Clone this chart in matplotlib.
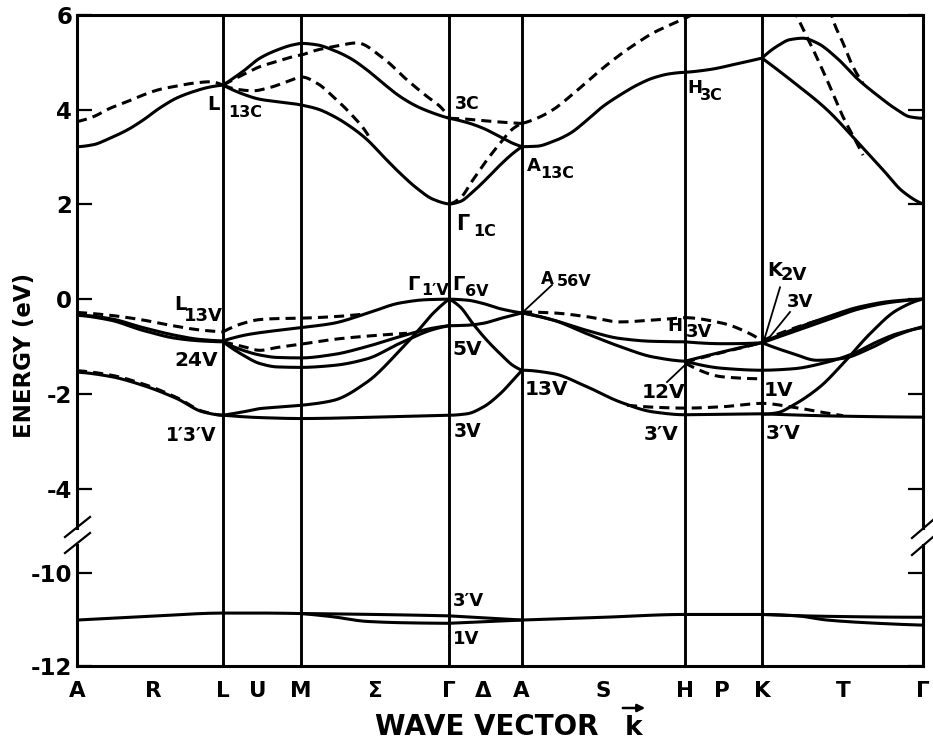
import numpy as np
import matplotlib
matplotlib.use("Agg")
import matplotlib.pyplot as plt
from matplotlib.lines import Line2D
from matplotlib.patches import FancyArrowPatch

plt.rcParams["font.family"] = ["DejaVu Sans"]
plt.rcParams["font.weight"] = "bold"

# ---------------------------------------------------------------- k path
SYM_K = [0, 146, 224, 372, 445, 608, 685, 846]          # A L M Γ A H K Γ
LINE_K = [146, 224, 372, 445, 608, 685]                  # vertical guide lines
TICK_LABELS = ["A", "R", "L", "U", "M", "Σ", "Γ", "Δ", "A", "S", "H", "P", "K", "T", "Γ"]
TICK_K = [0, 76, 146, 181, 224, 298, 372, 406, 444, 526, 608, 645, 685, 766, 846]

E_TICKS_UPPER = [6, 4, 2, 0, -2, -4]
E_TICKS_LOWER = [-10, -12]

# ---------------------------------------------------------------- conduction bands
cond_solid = [
    ([0, 16, 33, 50, 66, 83, 100, 116, 133, 146],
     [3.22, 3.26, 3.40, 3.57, 3.78, 4.04, 4.25, 4.38, 4.48, 4.52]),
    ([146, 166, 183, 200, 216, 225, 240, 256, 273, 290, 306, 323, 340, 356, 372],
     [4.52, 4.81, 5.09, 5.26, 5.37, 5.40, 5.37, 5.26, 5.09, 4.84, 4.56, 4.28, 4.07, 3.93, 3.82]),
    ([146, 166, 183, 200, 216, 224, 240, 256, 273, 290, 306, 323, 340, 356, 372],
     [4.52, 4.33, 4.22, 4.17, 4.13, 4.10, 4.02, 3.87, 3.65, 3.37, 3.02, 2.66, 2.34, 2.11, 2.01]),
    ([372, 383, 396, 410, 423, 436, 445], [2.01, 2.06, 2.27, 2.55, 2.83, 3.08, 3.22]),
    ([372, 390, 406, 423, 436, 445], [3.82, 3.73, 3.61, 3.43, 3.29, 3.22]),
    ([445, 460, 476, 493, 510, 526, 543, 560, 576, 593, 608],
     [3.22, 3.23, 3.33, 3.50, 3.78, 4.07, 4.31, 4.52, 4.67, 4.76, 4.79]),
    ([608, 633, 660, 685], [4.79, 4.85, 4.97, 5.09]),
    ([685, 700, 713, 726, 740, 760, 780, 800, 820, 833, 846],
     [5.09, 5.34, 5.48, 5.51, 5.41, 5.09, 4.66, 4.31, 4.00, 3.85, 3.82]),
    ([685, 716, 750, 783, 806, 826, 846], [5.09, 4.59, 4.00, 3.26, 2.73, 2.27, 2.01]),
]

cond_dashed = [
    ([0, 16, 33, 50, 66, 83, 100, 116, 133, 146],
     [3.75, 3.85, 4.03, 4.17, 4.31, 4.43, 4.50, 4.56, 4.59, 4.52]),
    ([146, 166, 183, 200, 216, 225, 240, 256, 280, 306, 330, 350, 363, 372],
     [4.52, 4.74, 4.91, 5.02, 5.12, 5.16, 5.26, 5.33, 5.41, 5.09, 4.63, 4.28, 4.07, 3.84]),
    ([146, 160, 176, 193, 210, 225, 240, 256, 273, 290, 293],
     [4.52, 4.43, 4.40, 4.47, 4.59, 4.69, 4.56, 4.28, 3.93, 3.50, 3.38]),
    ([372, 390, 406, 423, 445], [3.82, 3.80, 3.77, 3.74, 3.71]),
    ([372, 383, 396, 410, 423, 436, 445], [2.01, 2.13, 2.52, 2.94, 3.29, 3.60, 3.71]),
    ([445, 460, 476, 493, 510, 526, 543, 560, 576, 593, 608, 622],
     [3.71, 3.82, 4.00, 4.28, 4.59, 4.88, 5.16, 5.41, 5.62, 5.79, 5.93, 6.08]),
    ([716, 720, 733, 750, 766, 780, 786], [6.15, 5.97, 5.41, 4.63, 3.85, 3.29, 3.04]),
    ([753, 756, 766, 776, 786], [6.15, 5.90, 5.41, 4.91, 4.56]),
]

# ---------------------------------------------------------------- valence bands
val_solid = [
    ([0, 33, 66, 100, 123, 146], [-0.34, -0.44, -0.66, -0.83, -0.88, -0.90]),
    ([0, 33, 66, 100, 123, 146], [-0.33, -0.41, -0.60, -0.77, -0.85, -0.88]),
    ([0, 33, 66, 100, 126, 146], [-1.54, -1.63, -1.82, -2.10, -2.38, -2.45]),
    ([146, 170, 200, 224, 256, 290, 323, 350, 372],
     [-0.88, -0.75, -0.66, -0.60, -0.51, -0.30, -0.08, -0.01, 0.0]),
    ([146, 166, 183, 200, 224, 256, 290, 323, 356, 372],
     [-0.90, -1.08, -1.18, -1.23, -1.24, -1.17, -1.00, -0.79, -0.61, -0.56]),
    ([146, 166, 183, 200, 224, 256, 290, 323, 356, 372],
     [-0.90, -1.18, -1.36, -1.43, -1.44, -1.40, -1.26, -0.93, -0.64, -0.56]),
    ([146, 166, 183, 200, 224, 256, 290, 323, 340, 356, 372],
     [-2.45, -2.38, -2.31, -2.28, -2.24, -2.14, -1.75, -1.08, -0.69, -0.30, 0.0]),
    ([146, 183, 224, 300, 372], [-2.45, -2.50, -2.52, -2.49, -2.45]),
    ([372, 390, 406, 423, 436, 445], [-2.45, -2.42, -2.28, -2.00, -1.71, -1.50]),
    ([372, 390, 406, 423, 445], [0.0, -0.02, -0.09, -0.20, -0.29]),
    ([372, 383, 396, 410, 423, 436, 445], [0.0, -0.16, -0.52, -0.87, -1.15, -1.40, -1.50]),
    ([372, 390, 406, 423, 445], [-0.56, -0.55, -0.51, -0.41, -0.29]),
    ([445, 476, 510, 543, 576, 608], [-0.29, -0.44, -0.66, -0.83, -0.89, -0.90]),
    ([445, 476, 510, 543, 576, 608], [-0.29, -0.44, -0.73, -1.00, -1.22, -1.31]),
    ([445, 476, 510, 543, 576, 608], [-1.50, -1.57, -1.85, -2.17, -2.38, -2.44]),
    ([608, 646, 685], [-0.90, -0.94, -0.92]),
    ([608, 646, 685], [-1.31, -1.11, -0.92]),
    ([608, 646, 685], [-1.31, -1.46, -1.50]),
    ([608, 685], [-2.44, -2.42]),
    ([685, 716, 750, 783, 816, 846], [-0.92, -0.69, -0.44, -0.20, -0.06, 0.0]),
    ([685, 716, 750, 783, 816, 846], [-0.92, -0.64, -0.38, -0.16, -0.04, 0.0]),
    ([685, 716, 740, 766, 793, 820, 846], [-0.92, -1.15, -1.29, -1.25, -1.04, -0.76, -0.58]),
    ([685, 716, 750, 776, 800, 820, 846], [-1.50, -1.47, -1.33, -1.15, -0.90, -0.73, -0.60]),
    ([685, 700, 716, 743, 766, 793, 820, 846], [-2.43, -2.40, -2.24, -1.85, -1.36, -0.73, -0.23, 0.0]),
    ([685, 766, 846], [-2.42, -2.47, -2.49]),
]

val_dashed = [
    ([0, 33, 66, 93, 123, 146], [-0.28, -0.34, -0.44, -0.55, -0.65, -0.69]),
    ([0, 33, 66, 100, 126, 146], [-1.51, -1.60, -1.79, -2.08, -2.37, -2.45]),
    ([146, 166, 183, 200, 225, 256, 285], [-0.69, -0.51, -0.43, -0.41, -0.40, -0.37, -0.32]),
    ([146, 166, 183, 200, 224, 256, 290, 330], [-0.90, -1.00, -1.08, -1.02, -0.95, -0.85, -0.78, -0.72]),
    ([445, 476, 510, 543, 576, 608], [-0.27, -0.29, -0.37, -0.48, -0.44, -0.39]),
    ([608, 646, 673, 685], [-0.39, -0.51, -0.73, -0.88]),
    ([608, 646, 673, 685], [-1.33, -1.12, -0.98, -0.91]),
    ([608, 646, 685], [-1.35, -1.64, -1.68]),
    ([550, 576, 608, 646, 685, 716, 743, 766], [-2.24, -2.28, -2.30, -2.27, -2.20, -2.28, -2.38, -2.46]),
    ([685, 716, 743], [-0.88, -0.62, -0.44]),
]

# ---------------------------------------------------------------- deep valence bands
core_solid = [
    ([0, 73, 146, 185, 224], [-11.01, -10.93, -10.86, -10.86, -10.87]),
    ([224, 298, 372], [-10.87, -10.89, -10.92]),
    ([224, 256, 290, 330, 372], [-10.87, -10.94, -11.04, -11.07, -11.08]),
    ([372, 445], [-10.92, -11.01]),
    ([372, 445], [-11.08, -11.01]),
    ([445, 527, 608, 685], [-11.01, -10.95, -10.89, -10.89]),
    ([685, 750, 846], [-10.89, -10.93, -10.95]),
    ([685, 720, 750, 800, 846], [-10.89, -10.92, -11.01, -11.08, -11.12]),
]


def smooth(x, y, n=40):
    """Shape-preserving cubic (PCHIP) through the given nodes, for drawing."""
    x = np.asarray(x, float)
    y = np.asarray(y, float)
    h = np.diff(x)
    d = np.diff(y) / h
    m = np.zeros_like(y)
    if len(x) == 2:
        m[:] = d[0]
    else:
        for i in range(1, len(x) - 1):
            if d[i - 1] * d[i] > 0:
                w1 = 2 * h[i] + h[i - 1]
                w2 = h[i] + 2 * h[i - 1]
                m[i] = (w1 + w2) / (w1 / d[i - 1] + w2 / d[i])

        def end(h0, h1, d0, d1):
            s = ((2 * h0 + h1) * d0 - h0 * d1) / (h0 + h1)
            if np.sign(s) != np.sign(d0):
                s = 0.0
            elif np.sign(d0) != np.sign(d1) and abs(s) > abs(3 * d0):
                s = 3 * d0
            return s

        m[0] = end(h[0], h[1], d[0], d[1])
        m[-1] = end(h[-1], h[-2], d[-1], d[-2])
    xs, ys = [], []
    for i in range(len(x) - 1):
        t = np.linspace(0, 1, n)
        h00 = 2 * t**3 - 3 * t**2 + 1
        h10 = t**3 - 2 * t**2 + t
        h01 = -2 * t**3 + 3 * t**2
        h11 = t**3 - t**2
        xs.append(x[i] + t * h[i])
        ys.append(h00 * y[i] + h10 * h[i] * m[i] + h01 * y[i + 1] + h11 * h[i] * m[i + 1])
    return np.concatenate(xs), np.concatenate(ys)


W, H = 933, 746
fig = plt.figure(figsize=(W / 100, H / 100), dpi=100)


def fx(px):
    return px / W


def fy(py):
    return 1 - py / H


left, right = 77, 923
top_px, brk_px, bot_px = 15, 536, 666
ax = fig.add_axes([fx(left), fy(brk_px), fx(right - left), fy(top_px) - fy(brk_px)])
axb = fig.add_axes([fx(left), fy(bot_px), fx(right - left), fy(brk_px) - fy(bot_px)])

LW = 2.2
DASH = (3.3, 2.0)

for a in (ax, axb):
    a.set_xlim(SYM_K[0], SYM_K[-1])
    for k in LINE_K:
        a.axvline(k, color="black", lw=2.1, zorder=1)
    for s in a.spines.values():
        s.set_linewidth(LW)
    a.tick_params(axis="y", which="both", direction="in", length=11, width=1.6,
                  left=True, right=True, labelsize=16.5, pad=3.5)

ax.set_ylim(-5.0, 6.0)
axb.set_ylim(-12.0, -9.20)
ax.spines["bottom"].set_visible(False)
axb.spines["top"].set_visible(False)
ax.spines["left"].set_bounds(-4.84, 6.0)
ax.spines["right"].set_bounds(-4.84, 6.0)
axb.spines["left"].set_bounds(-12.0, -9.40)
axb.spines["right"].set_bounds(-12.0, -9.40)

ax.set_yticks(E_TICKS_UPPER)
ax.set_yticklabels([str(v) for v in E_TICKS_UPPER])
axb.set_yticks(E_TICKS_LOWER)
axb.set_yticklabels([str(v) for v in E_TICKS_LOWER])

ax.set_xticks([])
axb.set_xticks(TICK_K)
axb.set_xticklabels(TICK_LABELS, fontsize=15.5)
axb.tick_params(axis="x", length=0, pad=11)

for kk, ee in cond_solid + val_solid:
    xs, ys = smooth(kk, ee)
    ax.plot(xs, ys, color="black", lw=LW, solid_capstyle="round", zorder=3)
for kk, ee in cond_dashed + val_dashed:
    xs, ys = smooth(kk, ee)
    ax.plot(xs, ys, color="black", lw=LW, dashes=DASH, zorder=3)
for kk, ee in core_solid:
    xs, ys = smooth(kk, ee)
    axb.plot(xs, ys, color="black", lw=LW, solid_capstyle="round", zorder=3)

# ---------------------------------------------------------------- state labels
MAIN = 14.5
SUB = 11.5


def lab(a, k, e, s, size=MAIN):
    a.text(k, e, s, fontsize=size, fontweight="bold", ha="left", va="center", zorder=5)


lab(ax, 130, 4.12, "L", 14)
lab(ax, 151, 3.95, "13C", SUB)
lab(ax, 378, 4.12, "3C", 12.5)
lab(ax, 379, 1.59, "Γ", 15)
lab(ax, 396, 1.42, "1C", SUB)
lab(ax, 450, 2.81, "A", 13)
lab(ax, 463, 2.66, "13C", SUB)
lab(ax, 610, 4.45, "H", 13)
lab(ax, 623, 4.31, "3C", SUB)
lab(ax, 330, 0.32, "Γ", 14)
lab(ax, 344, 0.19, "1′V", SUB)
lab(ax, 375, 0.30, "Γ", 14)
lab(ax, 388, 0.17, "6V", SUB)
lab(ax, 464, 0.42, "A", 12)
lab(ax, 480, 0.38, "56V", SUB)
ax.plot([475, 446], [0.30, -0.27], color="black", lw=1.3)
lab(ax, 97, -0.11, "L", 14)
lab(ax, 107, -0.36, "13V", 13)
lab(ax, 97, -1.29, "24V")
lab(ax, 89, -2.87, "1′3′V", 13.5)
lab(ax, 375, -1.07, "5V")
lab(ax, 377, -2.80, "3V", 13.5)
lab(ax, 448, -1.90, "13V")
lab(ax, 565, -1.98, "12V")
ax.plot([590, 613], [-1.75, -1.29], color="black", lw=1.3)
lab(ax, 590, -0.57, "H", 13)
lab(ax, 609, -0.69, "3V", 13)
lab(ax, 567, -2.86, "3′V")
lab(ax, 690, 0.61, "K", 14)
lab(ax, 704, 0.51, "2V", 13)
lab(ax, 710, -0.05, "3V", 13)
ax.plot([703, 687], [0.25, -0.87], color="black", lw=1.3)
ax.plot([713, 690], [-0.27, -0.87], color="black", lw=1.3)
lab(ax, 687, -1.92, "1V")
lab(ax, 689, -2.83, "3′V")
lab(axb, 376, -10.61, "3′V", 13)
lab(axb, 376, -11.41, "1V", 13)

# ---------------------------------------------------------------- axis break marks
for x0, x1, ys in ((65, 90, ((537, 517), (553, 533))), (912, 933, ((538, 520), (555, 537)))):
    for y0, y1 in ys:
        fig.add_artist(Line2D([fx(x0), fx(x1)], [fy(y0), fy(y1)], color="black", lw=1.6))

# ---------------------------------------------------------------- axis titles
fig.text(fx(25), fy(355), "ENERGY (eV)", rotation=90, ha="center", va="center",
         fontsize=16.5, fontweight="bold")
fig.text(fx(487), fy(727), "WAVE VECTOR", ha="center", va="center",
         fontsize=20, fontweight="bold")
fig.text(fx(634), fy(728), "k", ha="center", va="center", fontsize=19, fontweight="bold")
fig.add_artist(FancyArrowPatch(
    (fx(620), fy(708)), (fx(648), fy(708)), transform=fig.transFigure,
    arrowstyle="-|>", mutation_scale=11, lw=1.8, color="black"))

fig.savefig("out.png", dpi=100)
